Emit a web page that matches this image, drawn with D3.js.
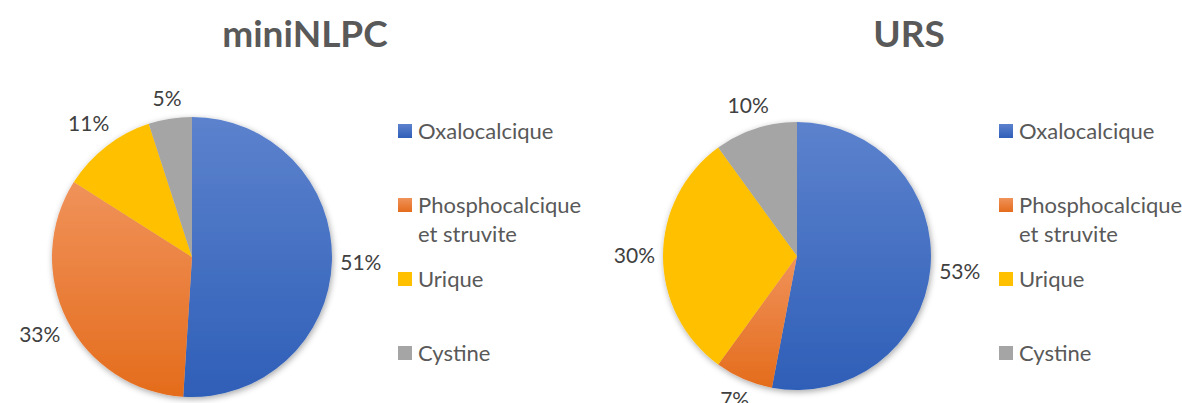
<!DOCTYPE html>
<html>
<head>
<meta charset="utf-8">
<script src="https://cdn.jsdelivr.net/npm/d3@7"></script>
<style>
  html, body { margin: 0; padding: 0; background: #fff; }
  svg { display: block; font-family: Lato, "Open Sans", sans-serif; }
</style>
</head>
<body>
<svg id="chart" width="1182" height="403"></svg>
<script>
(function() {
  // data
  var categories = ['Oxalocalcique', 'Phosphocalcique et struvite', 'Urique', 'Cystine'];
  var legendLines = [['Oxalocalcique'], ['Phosphocalcique', 'et struvite'], ['Urique'], ['Cystine']];
  var titles = ['miniNLPC', 'URS'];
  var miniNLPC = [51, 33, 11, 5];
  var urs = [53, 7, 30, 10];

  var colors = ['#4472C4', '#ED7D31', '#FFC000', '#A5A5A5'];
  var lightColors = ['#5c82cd', '#f0925a', '#FFC000', '#A5A5A5'];
  var darkColors = ['#2f5fb8', '#e46c1c', '#FFC000', '#A5A5A5'];

  var svg = d3.select('#chart');
  var defs = svg.append('defs');

  var shadow = defs.append('filter').attr('id', 'shadow')
    .attr('x', '-20%').attr('y', '-20%').attr('width', '140%').attr('height', '140%');
  shadow.append('feDropShadow').attr('dx', 1).attr('dy', 2)
    .attr('stdDeviation', 3).attr('flood-color', '#000').attr('flood-opacity', 0.35);

  colors.forEach(function(c, i) {
    var g = defs.append('linearGradient').attr('id', 'grad' + i)
      .attr('x1', 0).attr('y1', 0).attr('x2', 0).attr('y2', 1);
    g.append('stop').attr('offset', '0%').attr('stop-color', lightColors[i]);
    g.append('stop').attr('offset', '100%').attr('stop-color', darkColors[i]);
  });

  var pie = d3.pie().sort(null).value(function(d) { return d; });

  var charts = [
    { title: titles[0], values: miniNLPC, cx: 192, cy: 257, r: 140, titleX: 305, legendX: 398 },
    { title: titles[1], values: urs, cx: 797, cy: 256, r: 134, titleX: 909, legendX: 999 }
  ];

  var legendY = [131, 205, 279, 353];

  charts.forEach(function(ch) {
    svg.append('text')
      .attr('x', ch.titleX).attr('y', 47)
      .attr('text-anchor', 'middle')
      .attr('font-size', 37).attr('font-weight', 'bold')
      .attr('fill', '#595959')
      .text(ch.title);

    var arc = d3.arc().innerRadius(0).outerRadius(ch.r);
    var arcs = pie(ch.values);

    var g = svg.append('g').attr('transform', 'translate(' + ch.cx + ',' + ch.cy + ')');
    g.append('g').attr('filter', 'url(#shadow)')
      .selectAll('path').data(arcs).enter().append('path')
      .attr('d', arc)
      .attr('fill', function(d, i) { return 'url(#grad' + i + ')'; });

    // labels sit just outside the rim, pushed out by half their box
    g.selectAll('text.lbl').data(arcs).enter().append('text')
      .attr('class', 'lbl')
      .attr('text-anchor', 'middle')
      .attr('dy', '0.35em')
      .attr('font-size', 21)
      .attr('fill', '#404040')
      .text(function(d) { return d.value + '%'; })
      .attr('transform', function(d) {
        var a = (d.startAngle + d.endAngle) / 2;
        var w = this.getComputedTextLength();
        var s = Math.sin(a), c = Math.cos(a);
        var dist = ch.r + 8 + Math.abs(s) * w / 2 + Math.abs(c) * 10;
        return 'translate(' + (s * dist) + ',' + (-c * dist) + ')';
      });

    var lg = svg.append('g').attr('transform', 'translate(' + ch.legendX + ',0)');
    categories.forEach(function(cat, i) {
      var item = lg.append('g').attr('transform', 'translate(0,' + legendY[i] + ')');
      item.append('rect').attr('x', 0).attr('y', -7).attr('width', 14).attr('height', 14)
        .attr('fill', 'url(#grad' + i + ')');
      var t = item.append('text').attr('x', 20).attr('y', 0)
        .attr('font-size', 22).attr('fill', '#595959');
      legendLines[i].forEach(function(line, j) {
        t.append('tspan').attr('x', 20).attr('dy', j === 0 ? '0.35em' : 29).text(line);
      });
    });
  });
})();
</script>
</body>
</html>
